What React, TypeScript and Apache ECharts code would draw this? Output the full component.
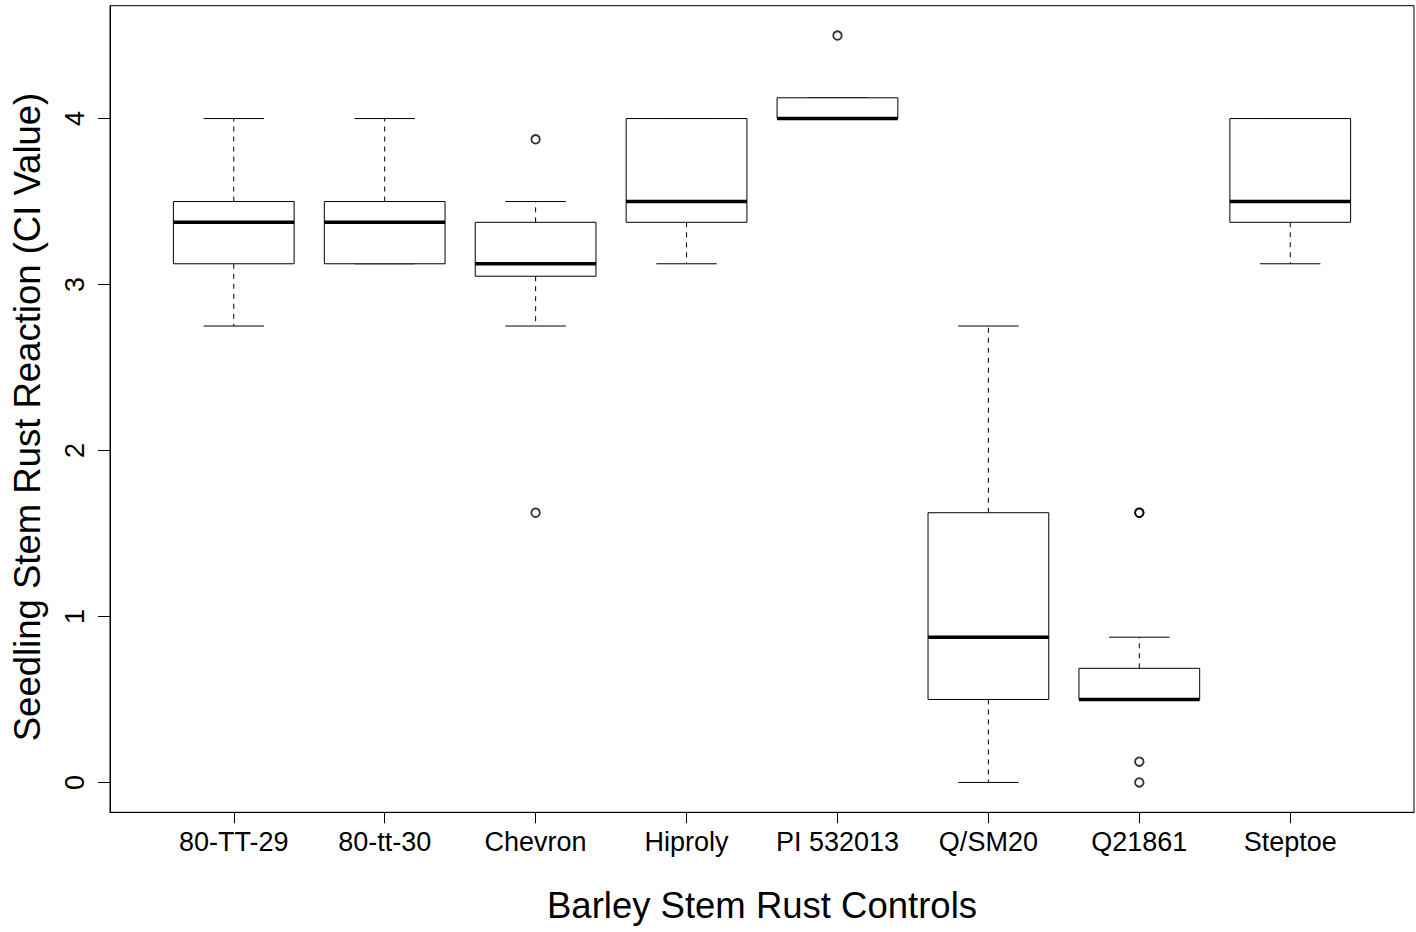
import React, { useEffect, useRef } from "react";
import * as echarts from "echarts";

// Barley stem rust control lines and their seedling reaction summaries
const categories = ["80-TT-29", "80-tt-30", "Chevron", "Hiproly", "PI 532013", "Q/SM20", "Q21861", "Steptoe"];
const whiskerLow = [2.75, 3.125, 2.75, 3.125, 4, 0, 0.5, 3.125];
const lowerHinge = [3.125, 3.125, 3.05, 3.375, 4, 0.5, 0.5, 3.375];
const medians = [3.375, 3.375, 3.125, 3.5, 4, 0.875, 0.5, 3.5];
const upperHinge = [3.5, 3.5, 3.375, 4, 4.125, 1.625, 0.6875, 4];
const whiskerHigh = [4, 4, 3.5, 4, 4.125, 2.75, 0.875, 4];
// [category position (1-based), value]
const outliers: [number, number][] = [
  [3, 3.875],
  [3, 1.625],
  [5, 4.5],
  [7, 1.625],
  [7, 1.625],
  [7, 0.125],
  [7, 0],
];
const yTicks = [0, 1, 2, 3, 4];
const xTicks = categories.map((_, i) => i + 1);

const FONT = "'Liberation Sans', Arial, Helvetica, sans-serif";

export default function App() {
  const ref = useRef<HTMLDivElement>(null);

  useEffect(() => {
    if (!ref.current) return;
    const chart = echarts.init(ref.current, null, { renderer: "svg" });

    const boxData = categories.map((_, i) => [
      i + 1,
      whiskerLow[i],
      lowerHinge[i],
      medians[i],
      upperHinge[i],
      whiskerHigh[i],
    ]);

    const renderBox = (params: any, api: any) => {
      const x = api.value(0);
      const pLow = api.coord([x, api.value(1)]);
      const pQ1 = api.coord([x, api.value(2)]);
      const pMed = api.coord([x, api.value(3)]);
      const pQ3 = api.coord([x, api.value(4)]);
      const pHigh = api.coord([x, api.value(5)]);
      const halfBox = api.size([0.4, 0])[0];
      const halfCap = api.size([0.2, 0])[0];
      const cx = pMed[0];
      const dashed = { stroke: "#000", lineWidth: 1, lineDash: [5, 5], fill: null };
      const solid = { stroke: "#000", lineWidth: 1, fill: null };
      return {
        type: "group",
        children: [
          { type: "line", shape: { x1: cx, y1: pQ3[1], x2: cx, y2: pHigh[1] }, style: dashed },
          { type: "line", shape: { x1: cx, y1: pQ1[1], x2: cx, y2: pLow[1] }, style: dashed },
          { type: "line", shape: { x1: cx - halfCap, y1: pHigh[1], x2: cx + halfCap, y2: pHigh[1] }, style: solid },
          { type: "line", shape: { x1: cx - halfCap, y1: pLow[1], x2: cx + halfCap, y2: pLow[1] }, style: solid },
          {
            type: "rect",
            shape: { x: cx - halfBox, y: pQ3[1], width: halfBox * 2, height: pQ1[1] - pQ3[1] },
            style: { stroke: "#000", lineWidth: 1, fill: "#fff" },
          },
          {
            type: "line",
            shape: { x1: cx - halfBox, y1: pMed[1], x2: cx + halfBox, y2: pMed[1] },
            style: { stroke: "#000", lineWidth: 3.5 },
          },
        ],
      };
    };

    chart.setOption({
      animation: false,
      backgroundColor: "#fff",
      textStyle: { fontFamily: FONT },
      grid: {
        left: 110,
        right: 2,
        top: 5.7,
        bottom: 119.7,
        show: true,
        borderColor: "#000",
        borderWidth: 1,
        backgroundColor: "transparent",
      },
      xAxis: {
        type: "value",
        min: 0.18,
        max: 8.82,
        splitLine: { show: false },
        axisLine: { show: true, onZero: false, lineStyle: { color: "#000", width: 1 } },
        axisTick: { show: true, length: 11, customValues: xTicks, lineStyle: { color: "#000", width: 1 } },
        axisLabel: {
          show: true,
          customValues: xTicks,
          margin: 16,
          fontSize: 27,
          color: "#000",
          fontFamily: FONT,
          formatter: (v: number) => categories[Math.round(v) - 1] ?? "",
        },
        name: "Barley Stem Rust Controls",
        nameLocation: "middle",
        nameGap: 75,
        nameTextStyle: { fontSize: 36.5, color: "#000", fontFamily: FONT },
      },
      yAxis: {
        type: "value",
        min: -0.18,
        max: 4.68,
        splitLine: { show: false },
        axisLine: { show: true, onZero: false, lineStyle: { color: "#000", width: 1 } },
        axisTick: { show: true, length: 12, customValues: yTicks, lineStyle: { color: "#000", width: 1 } },
        axisLabel: {
          show: true,
          customValues: yTicks,
          rotate: 90,
          margin: 22,
          fontSize: 27,
          color: "#000",
          fontFamily: FONT,
        },
        name: "Seedling Stem Rust Reaction (CI Value)",
        nameLocation: "middle",
        nameGap: 64,
        nameTextStyle: { fontSize: 36.5, color: "#000", fontFamily: FONT, padding: [0, 16, 0, 0] },
      },
      series: [
        {
          type: "custom",
          renderItem: renderBox,
          data: boxData,
          encode: { x: 0, y: [1, 2, 3, 4, 5] },
          clip: false,
          silent: true,
        },
        {
          type: "scatter",
          data: outliers,
          symbol: "circle",
          symbolSize: 8.5,
          itemStyle: { color: "rgba(0,0,0,0)", borderColor: "#000", borderWidth: 1.8 },
          silent: true,
        },
      ],
    });

    return () => chart.dispose();
  }, []);

  return (
    <div
      ref={ref}
      style={{ position: "fixed", left: 0, top: 0, width: 1416, height: 932, background: "#fff" }}
    />
  );
}
